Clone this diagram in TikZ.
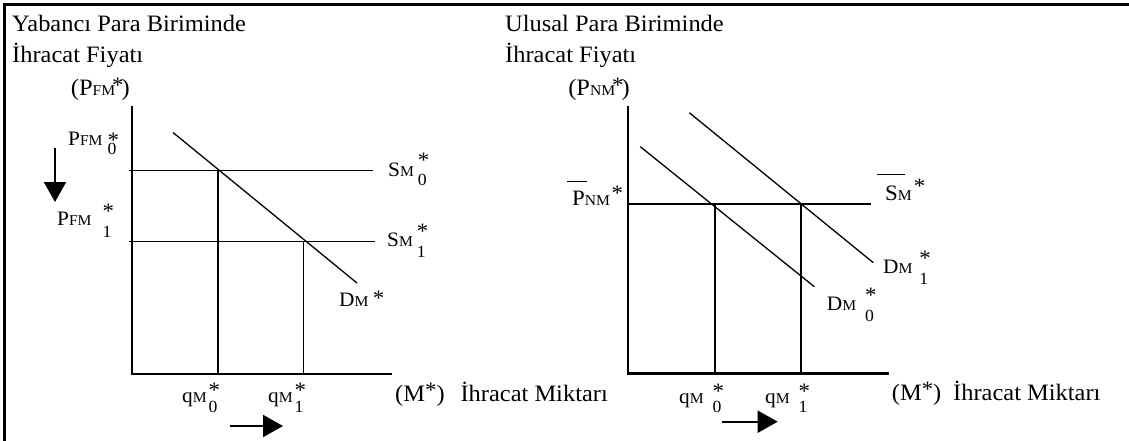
\documentclass[tikz,border=0pt]{standalone}
\usepackage{fontspec}
\setmainfont{Liberation Serif}[FakeStretch=1.04]
\usetikzlibrary{arrows.meta}
\newcommand\ftitle{\fontsize{23.5}{28}\selectfont}
\newcommand\flab{\fontsize{20.5}{24}\selectfont}
\newcommand\fbig{\fontsize{22}{26}\selectfont}
\newcommand\fsm{\fontsize{15}{17}\selectfont}
\newcommand\fst{\fontsize{22}{24}\selectfont}
\newcommand\fdg{\fontsize{17}{19}\selectfont}
\newcommand\sm[1]{{\fsm #1}}
\newcommand\astr[1]{\raisebox{#1}{\fst *}}
\newcommand\stk[3]{\rlap{\raisebox{#1}{\fst *}}\raisebox{#2}{\fdg #3}}
\begin{document}
\begin{tikzpicture}[x=1pt,y=-1pt,
  curve/.style={line width=1.3pt},
  bold/.style={line width=2.4pt},
  frame/.style={line width=2.2pt},
  shiftarrow/.style={line width=2pt,-{Triangle[length=20pt,width=22pt]}},
  ttl/.style={inner sep=0pt,anchor=base west,font=\ftitle},
  lbl/.style={inner sep=0pt,anchor=base west,font=\flab},
  blbl/.style={inner sep=0pt,anchor=base west,font=\fbig}]
\useasboundingbox (0,0) rectangle (1129,441);
% frame
\coordinate (F-bl) at (4.5,441);
\coordinate (F-tl) at (4.5,4.5);
\coordinate (F-tr) at (1129,4.5);
\draw[frame] (F-bl) -- (F-tl) -- (F-tr);

% ---------- left graph ----------
\coordinate (L-ytop) at (132,106);
\coordinate (L-o) at (132,374);
\coordinate (L-xend) at (392,374);
\coordinate (L-s0a) at (129,170.5);
\coordinate (L-s0b) at (373,170.5);
\coordinate (L-s1a) at (129,241.5);
\coordinate (L-s1b) at (375,241.5);
\coordinate (L-q0top) at (218,170.5);
\coordinate (L-q0bot) at (218,374);
\coordinate (L-q1top) at (303.5,241.5);
\coordinate (L-q1bot) at (303.5,374);
\coordinate (L-da) at (173,132.5);
\coordinate (L-db) at (357,283);
\coordinate (L-arrA) at (55,148);
\coordinate (L-arrB) at (55,202);
\coordinate (L-harA) at (230,426);
\coordinate (L-harB) at (283,426);

\draw[curve] (L-s0a) -- (L-s0b);
\draw[curve] (L-s1a) -- (L-s1b);
\draw[curve] (L-da) -- (L-db);
\draw[curve] (L-q1top) -- (L-q1bot);
\draw[bold] (L-q0top) -- (L-q0bot);
\draw[bold] (L-ytop) -- (L-o) -- (L-xend);
\draw[shiftarrow] (L-arrA) -- (L-arrB);
\draw[shiftarrow] (L-harA) -- (L-harB);

\node[ttl] (t1) at (12,32) {Yabancı Para Biriminde};
\node[ttl] (t2) at (12,63) {İhracat Fiyatı};
\node[ttl,anchor=base east] (t3) at (130,96) {(P\sm{FM}\kern-3pt\astr{3.2pt}\kern-2pt)};
\node[lbl] (pf0) at (68,146) {P\sm{FM}\kern5pt\stk{-1.3pt}{-9pt}{0}};
\node[lbl] (pf1) at (57,225) {P\sm{FM}\kern11pt\stk{6.7pt}{-12pt}{1}};
\node[lbl] (s0) at (388,176) {S\sm{M}\kern4pt\stk{8.2pt}{-9pt}{0}};
\node[lbl] (s1) at (387,246.5) {S\sm{M}\kern4pt\stk{8.2pt}{-10.5pt}{1}};
\node[lbl] (dl) at (339,306) {D\sm{M}\kern4.5pt\astr{0.7pt}};
\node[lbl] (q0l) at (182,402) {q\sm{M}\kern2pt\stk{4.2pt}{-10pt}{0}};
\node[lbl] (q1l) at (268,402) {q\sm{M}\kern2pt\stk{4.2pt}{-10pt}{1}};
\node[ttl] (ml) at (395,401) {(M\astr{3.2pt})};
\node[ttl,anchor=base east] (il) at (608,401) {İhracat Miktarı};

% ---------- right graph ----------
\coordinate (R-ytop) at (628,106);
\coordinate (R-o) at (628,373.5);
\coordinate (R-xend) at (888.5,373.5);
\coordinate (R-sa) at (627,204);
\coordinate (R-sb) at (871,204);
\coordinate (R-q0top) at (715,204);
\coordinate (R-q0bot) at (715,373.5);
\coordinate (R-q1top) at (800.7,204);
\coordinate (R-q1bot) at (800.7,373.5);
\coordinate (R-d0a) at (640.3,146.7);
\coordinate (R-d0b) at (814.3,286.7);
\coordinate (R-d1a) at (689.3,112.7);
\coordinate (R-d1b) at (873.3,262.7);
\coordinate (R-arrA) at (722,421.7);
\coordinate (R-arrB) at (777.7,421.7);

\draw[curve] (R-sa) -- (R-sb);
\draw[curve] (R-d0a) -- (R-d0b);
\draw[curve] (R-d1a) -- (R-d1b);
\draw[bold] (R-q0top) -- (R-q0bot);
\draw[bold] (R-q1top) -- (R-q1bot);
\draw[bold] (R-ytop) -- (R-o) -- (R-xend);
\draw[shiftarrow] (R-arrA) -- (R-arrB);

\node[ttl] (t4) at (505,32) {Ulusal Para Biriminde};
\node[ttl] (t5) at (505,63) {İhracat Fiyatı};
\node[ttl,anchor=base east] (t6) at (630,96) {(P\sm{NM}\kern-3pt\astr{3.2pt}\kern-2pt)};
\node[blbl] (pn) at (572,205) {\rlap{\kern-5pt\rule[23pt]{20pt}{1pt}}P\sm{NM}\kern1.5pt\astr{4.7pt}};
\node[blbl] (sbar) at (885,200.7) {\rlap{\kern-8pt\rule[25.7pt]{28pt}{1pt}}S\sm{M}\kern2pt\astr{7.4pt}};
\node[lbl] (d1) at (883,273) {D\sm{M}\kern7pt\stk{7.7pt}{-11pt}{1}};
\node[lbl] (d0) at (826.7,310.7) {D\sm{M}\kern9pt\stk{8.7pt}{-11pt}{0}};
\node[lbl] (q0r) at (679,403) {q\sm{M}\kern9pt\stk{4.2pt}{-9pt}{0}};
\node[lbl] (q1r) at (765,403) {q\sm{M}\kern9pt\stk{4.2pt}{-9pt}{1}};
\node[ttl] (mr) at (891.7,400) {(M\astr{3.2pt})};
\node[ttl] (ir) at (953,400) {İhracat Miktarı};
\end{tikzpicture}
\end{document}
